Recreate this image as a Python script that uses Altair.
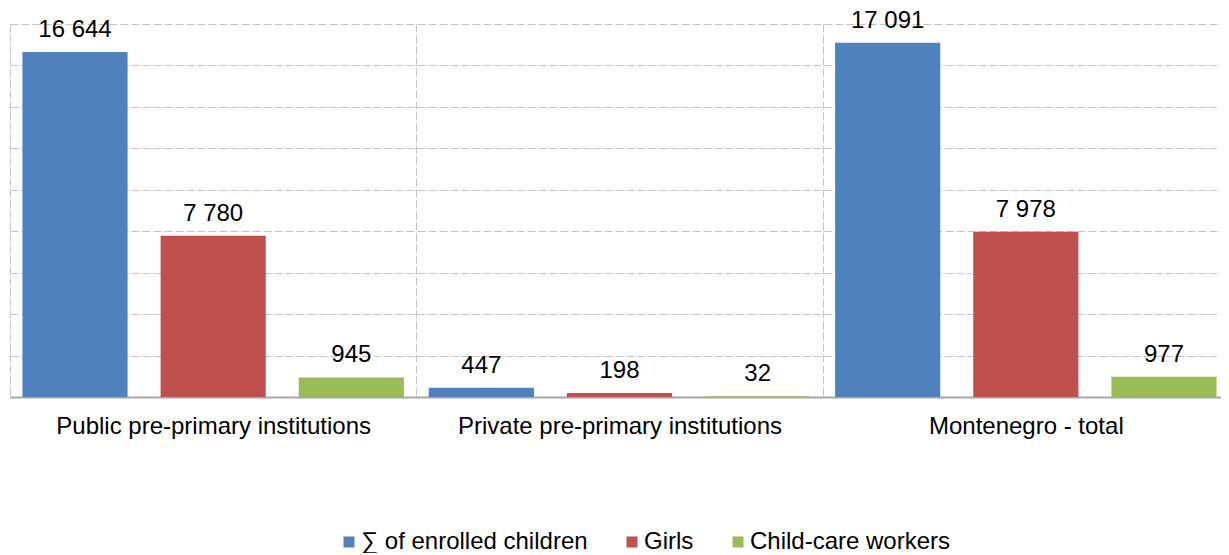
import altair as alt
import pandas as pd

groups = ["Public pre-primary institutions", "Private pre-primary institutions", "Montenegro - total"]
series = ["∑ of enrolled children", "Girls", "Child-care workers"]
enrolled = [16644, 447, 17091]
girls = [7780, 198, 7978]
workers = [945, 32, 977]
colors = ["#4F81BD", "#C0504D", "#9BBB59"]

rows = []
for gi, g in enumerate(groups):
    for s, vals in zip(series, [enrolled, girls, workers]):
        v = vals[gi]
        rows.append({"group": g, "series": s, "value": v,
                     "label": f"{v:,}".replace(",", " ")})
df = pd.DataFrame(rows)

FONT = "Liberation Sans"
GRID = "#c4c4c4"
FS = 24

x = alt.X("group:N", sort=groups,
          scale=alt.Scale(paddingInner=0, paddingOuter=0, range=[0, 1219]),
          axis=alt.Axis(title=None, labelAngle=0, ticks=False, tickBand="extent",
                        grid=True, gridDash=[8, 3], gridColor=GRID, gridWidth=1,
                        domainColor="#a6a6a6", domainWidth=2, labelLimit=0,
                        labelFont=FONT, labelFontSize=FS, labelColor="#000000",
                        labelPadding=17))
xo = alt.XOffset("series:N", sort=series,
                 scale=alt.Scale(paddingInner=0.239, paddingOuter=0.09))
y = alt.Y("value:Q", scale=alt.Scale(domain=[0, 18000], nice=False),
          axis=alt.Axis(title=None, values=list(range(0, 18001, 2000)),
                        labels=False, ticks=False, domain=False,
                        grid=True, gridDash=[8, 3], gridColor=GRID, gridWidth=1))

bars = alt.Chart(df).mark_bar().encode(
    x=x, xOffset=xo, y=y,
    color=alt.Color("series:N", sort=series,
                    scale=alt.Scale(domain=series, range=colors),
                    legend=alt.Legend(title=None, orient="none", direction="horizontal",
                                      legendX=327, legendY=506,
                                      symbolType="square", symbolSize=121,
                                      symbolStrokeWidth=0, labelLimit=0,
                                      labelFont=FONT, labelFontSize=FS,
                                      labelColor="#000000", labelOffset=0,
                                      columnPadding=32)),
)

text = alt.Chart(df).mark_text(font=FONT, fontSize=FS, baseline="bottom",
                               dy=-10, color="#000000").encode(
    x=x, xOffset=xo, y=y, text="label:N")

chart = (bars + text).properties(
    width=1211, height=373,
    padding={"left": 2, "top": 16, "right": 0, "bottom": 156},
    autosize=alt.AutoSizeParams(type="none"),
).configure_view(stroke=None)

chart.save("out.html", embed_options={"renderer": "svg", "actions": False})
